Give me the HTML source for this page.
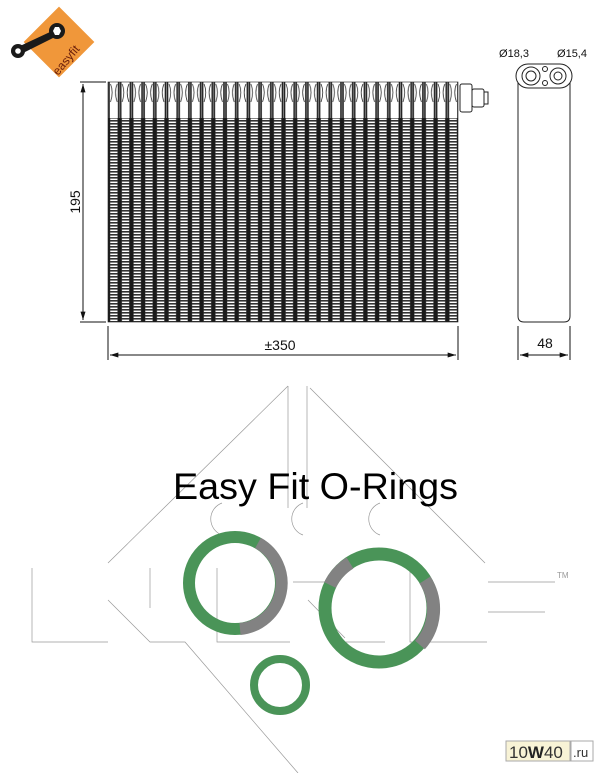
<!DOCTYPE html>
<html><head><meta charset="utf-8"><style>
html,body{margin:0;padding:0;background:#fff;}
svg{display:block;}
text{font-family:"Liberation Sans",Arial,sans-serif;}
</style></head><body>
<svg width="600" height="773" viewBox="0 0 600 773" xmlns="http://www.w3.org/2000/svg">
<defs>
<pattern id="fin" x="108" y="0" width="11.7" height="3" patternUnits="userSpaceOnUse">
<rect x="0" y="0" width="11.7" height="3" fill="#fff"/>
<rect x="0" y="0" width="2.2" height="3" fill="#1a1a1a"/>
<rect x="9.5" y="0" width="2.2" height="3" fill="#1a1a1a"/>
<rect x="2" y="0" width="7.7" height="1.6" fill="#333"/>
</pattern>
<pattern id="hdr" x="108" y="0" width="11.7" height="40" patternUnits="userSpaceOnUse">
<rect width="11.7" height="40" fill="#fff"/>
<path d="M1 0 V40 M10.7 0 V40" stroke="#222" stroke-width="1.6"/>
<path d="M2.5 4 Q5.8 12 2.5 22 M9.2 4 Q5.8 12 9.2 22" stroke="#333" stroke-width="0.8" fill="none"/>
</pattern>
<marker id="ar" viewBox="0 0 10 6" refX="10" refY="3" markerWidth="12" markerHeight="5" orient="auto-start-reverse" markerUnits="userSpaceOnUse"><path d="M0 0 L10 3 L0 6Z" fill="#111"/></marker>
</defs>

<!-- watermark NRF -->
<g stroke="#999" stroke-width="0.7" fill="none">
<path d="M288 386 L108 563"/>
<path d="M288 386 V508 M307 386 V508"/>
<path d="M310 388 L485 563"/>
<path d="M32 568 V642 H108 M150 568 V608 M108 600 L150 642 H185 L298 773"/>
<path d="M217 568 V642 H290 M330 642 H385 M410 568 V642 H487"/>
<path d="M308 600 L345 638 M293 582 H330"/>
<path d="M488 582 H555 M488 612 H545"/>
<path d="M222 503 A17 17 0 0 0 222 535 M303 503 A17 17 0 0 0 303 535 M380 503 A17 17 0 0 0 380 535"/>
</g>
<text x="557" y="578" font-size="8" fill="#999">TM</text>

<!-- logo -->
<g transform="translate(59,42) rotate(-45)">
<rect x="-25" y="-25" width="50" height="50" fill="#f0973a"/>
</g>
<g fill="#1a1a1a">
<circle cx="18" cy="51" r="7"/>
<path d="M20 46 L50 32 L53 38 L23 53Z"/>
<circle cx="57" cy="31" r="8"/>
</g>
<circle cx="18" cy="51" r="2.8" fill="#fff"/>
<polygon points="55,27 59,27 61,31 59,35 55,35 53,31" fill="#fff"/>
<text x="0" y="0" font-size="12" fill="#6a1e0a" transform="translate(58,76) rotate(-50)">easyfit</text>

<!-- evaporator -->
<rect x="108" y="118" width="350" height="204" fill="url(#fin)"/>
<rect x="108" y="82" width="350" height="36" fill="url(#hdr)"/>
<rect x="108" y="82" width="350" height="240" fill="none" stroke="#222" stroke-width="0.6"/>
<rect x="460" y="84" width="12" height="28" rx="2" fill="#fff" stroke="#222"/>
<rect x="472" y="89" width="12" height="18" rx="2" fill="#fff" stroke="#222"/>
<rect x="484" y="92" width="4" height="12" fill="#fff" stroke="#222"/>

<!-- dims -->
<g stroke="#111" stroke-width="1" fill="none">
<path d="M80 82 H106 M80 322 H106"/>
<line x1="83" y1="84" x2="83" y2="320" marker-start="url(#ar)" marker-end="url(#ar)"/>
<path d="M108 326 V360 M458 326 V360"/>
<line x1="110" y1="355" x2="456" y2="355" marker-start="url(#ar)" marker-end="url(#ar)"/>
<path d="M518 326 V360 M570 326 V360"/>
<line x1="520" y1="355" x2="568" y2="355" marker-start="url(#ar)" marker-end="url(#ar)"/>
</g>
<text x="0" y="0" font-size="14" fill="#111" text-anchor="middle" transform="translate(80,202) rotate(-90)">195</text>
<text x="280" y="350" font-size="14" fill="#111" text-anchor="middle">±350</text>
<text x="545" y="348" font-size="14" fill="#111" text-anchor="middle">48</text>

<!-- side view -->
<path d="M518 80 H570 V316 Q570 322 564 322 H524 Q518 322 518 316Z" fill="#fff" stroke="#222"/>
<rect x="516" y="64" width="56" height="24" rx="12" fill="#fff" stroke="#222"/>
<circle cx="531" cy="76" r="9" fill="none" stroke="#222"/>
<circle cx="531" cy="76" r="5" fill="none" stroke="#222"/>
<circle cx="558" cy="76" r="8" fill="none" stroke="#222"/>
<circle cx="558" cy="76" r="4" fill="none" stroke="#222"/>
<circle cx="545" cy="69" r="2.5" fill="none" stroke="#222"/>
<circle cx="545" cy="83" r="2.5" fill="none" stroke="#222"/>
<text x="514" y="57" font-size="11" fill="#111" text-anchor="middle">Ø18,3</text>
<text x="572" y="57" font-size="11" fill="#111" text-anchor="middle">Ø15,4</text>

<!-- title -->
<text x="173" y="499" font-size="37" fill="#000" textLength="285" lengthAdjust="spacingAndGlyphs">Easy Fit O-Rings</text>

<!-- rings -->
<circle cx="235" cy="583" r="46" fill="none" stroke="#4a9458" stroke-width="12"/>
<path d="M258 543 A46 46 0 0 1 240 629" fill="none" stroke="#828282" stroke-width="12"/>
<circle cx="379" cy="608" r="54" fill="none" stroke="#4a9458" stroke-width="13"/>
<path d="M330 585 A54 54 0 0 1 350 563" fill="none" stroke="#828282" stroke-width="13"/>
<path d="M425 580 A54 54 0 0 1 420 645" fill="none" stroke="#828282" stroke-width="13"/>
<circle cx="280" cy="685" r="26" fill="none" stroke="#4a9458" stroke-width="8"/>

<!-- 10W40 -->
<rect x="506" y="741" width="64" height="20" fill="#f8f3d6" stroke="#aaa"/>
<text x="509" y="758" font-size="17" fill="#333">10<tspan font-weight="bold" fill="#222">W</tspan>40</text>
<rect x="571" y="741" width="22" height="20" fill="#fff" stroke="#aaa"/>
<text x="573" y="757" font-size="13" fill="#333">.ru</text>
</svg>
</body></html>
